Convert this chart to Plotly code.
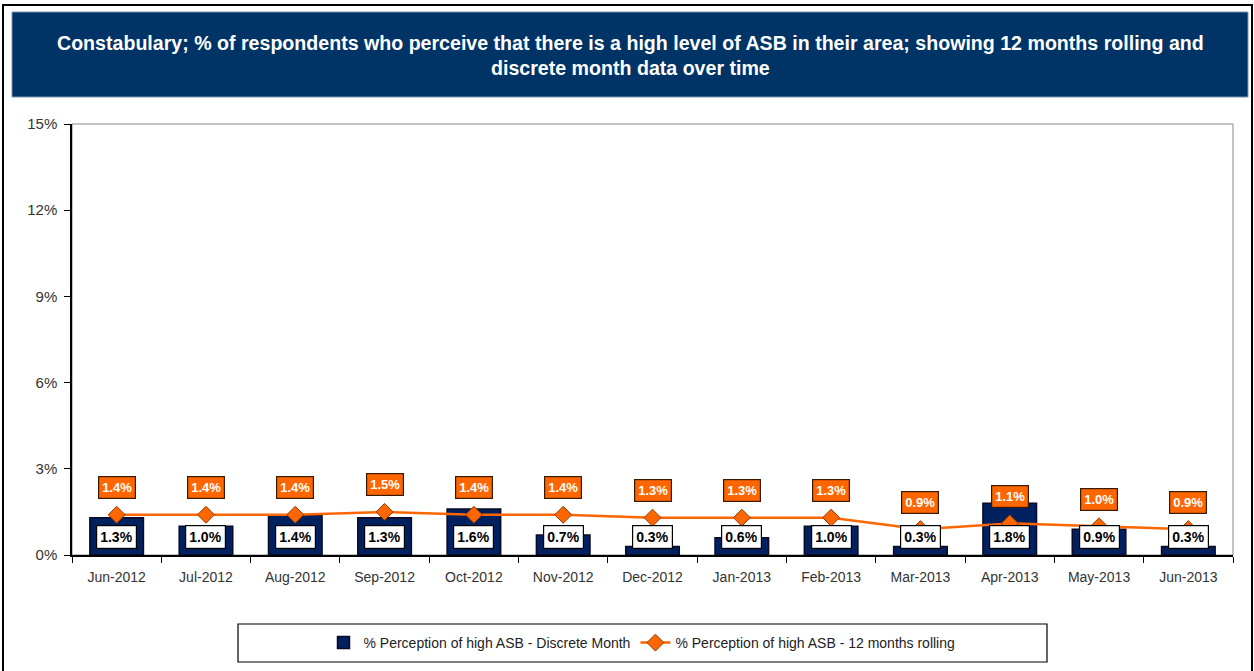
import plotly.graph_objects as go

months = ["Jun-2012", "Jul-2012", "Aug-2012", "Sep-2012", "Oct-2012", "Nov-2012", "Dec-2012",
          "Jan-2013", "Feb-2013", "Mar-2013", "Apr-2013", "May-2013", "Jun-2013"]
discrete = [1.3, 1.0, 1.4, 1.3, 1.6, 0.7, 0.3, 0.6, 1.0, 0.3, 1.8, 0.9, 0.3]
rolling = [1.4, 1.4, 1.4, 1.5, 1.4, 1.4, 1.3, 1.3, 1.3, 0.9, 1.1, 1.0, 0.9]
y_ticks = [0, 3, 6, 9, 12, 15]
y_labels = ["0%", "3%", "6%", "9%", "12%", "15%"]

title = ("Constabulary; % of respondents who perceive that there is a high level of ASB in their area; "
         "showing 12 months rolling and<br>discrete month data over time")

FONT = "Liberation Sans Narrow, Arial Narrow, Liberation Sans, Arial, sans-serif"
NAVY = "#002060"
ORANGE = "#FF6600"

# plot area in pixels: x 72..1233, y 124..555
L, R, T, B = 72, 21, 124, 116
W, H = 1254 - L - R, 671 - T - B


def px_x(p):
    return (p - L) / W


def px_y(p):
    return (671 - B - p) / H


fig = go.Figure()
fig.add_trace(go.Bar(x=months, y=discrete, name="% Perception of high ASB - Discrete Month",
                     marker=dict(color=NAVY, line=dict(color="#0a0a23", width=1.5)),
                     width=0.6))
fig.add_trace(go.Scatter(x=months, y=rolling, name="% Perception of high ASB - 12 months rolling",
                         mode="lines+markers",
                         line=dict(color=ORANGE, width=2.5),
                         marker=dict(symbol="diamond", size=13, color=ORANGE,
                                     line=dict(color="#8a3a00", width=1))))

annotations = []
for m, v in zip(months, discrete):
    annotations.append(dict(x=m, y=0, xref="x", yref="y", text="<b>%.1f%%</b>" % v,
                            showarrow=False, yshift=18, bgcolor="white",
                            bordercolor="black", borderwidth=1.2, borderpad=3,
                            font=dict(family=FONT, size=14, color="black")))
for m, v in zip(months, rolling):
    annotations.append(dict(x=m, y=v, xref="x", yref="y", text="<b>%.1f%%</b>" % v,
                            showarrow=False, yshift=27, bgcolor=ORANGE,
                            bordercolor="#3a1a00", borderwidth=1.2, borderpad=3,
                            font=dict(family=FONT, size=13, color="white")))
annotations.append(dict(x=px_x(630), y=px_y(56), xref="paper", yref="paper", text="<b>" + title + "</b>",
                        showarrow=False, xanchor="center", yanchor="middle",
                        font=dict(family=FONT, size=19.6, color="white")))

shapes = [
    # outer frame
    dict(type="rect", xref="paper", yref="paper", x0=px_x(3), x1=px_x(1252), y0=px_y(676), y1=px_y(5),
         line=dict(color="black", width=2), layer="below"),
    # title banner
    dict(type="rect", xref="paper", yref="paper", x0=px_x(12), x1=px_x(1248), y0=px_y(97), y1=px_y(12),
         fillcolor="#003366", line=dict(color="#7f95b0", width=1), layer="below"),
    # plot border
    dict(type="rect", xref="paper", yref="paper", x0=0, x1=1, y0=0, y1=1,
         line=dict(color="#888888", width=1), layer="below"),
    # legend box
    dict(type="rect", xref="paper", yref="paper", x0=px_x(238), x1=px_x(1047), y0=px_y(662), y1=px_y(624),
         line=dict(color="black", width=1.2), layer="below"),
]

fig.update_layout(
    width=1254, height=671,
    margin=dict(l=L, r=R, t=T, b=B),
    paper_bgcolor="white", plot_bgcolor="white",
    font=dict(family=FONT, size=14, color="#333333"),
    showlegend=True,
    legend=dict(orientation="h", x=px_x(642), y=px_y(643), xanchor="center", yanchor="middle",
                font=dict(family=FONT, size=14, color="#222222"), bgcolor="rgba(0,0,0,0)",
                itemwidth=30, tracegroupgap=40),
    annotations=annotations,
    shapes=shapes,
    bargap=0.4,
)
fig.update_xaxes(range=[-0.5, len(months) - 0.5], showline=True, linecolor="black", linewidth=1.5,
                 ticks="outside", ticklen=6, tickson="boundaries", tickcolor="black", showgrid=False,
                 ticklabelstandoff=8, tickfont=dict(family=FONT, size=14, color="#333333"))
fig.update_yaxes(range=[0, 15], tickvals=y_ticks, ticktext=y_labels, showline=True, linecolor="black",
                 linewidth=1.5, ticks="outside", ticklen=6, tickcolor="black", showgrid=False,
                 zeroline=False, ticklabelstandoff=4, tickfont=dict(family=FONT, size=15, color="#333333"))

fig.write_html("out.html", config={"displayModeBar": False},
               post_script="document.body.style.margin='0px';")
